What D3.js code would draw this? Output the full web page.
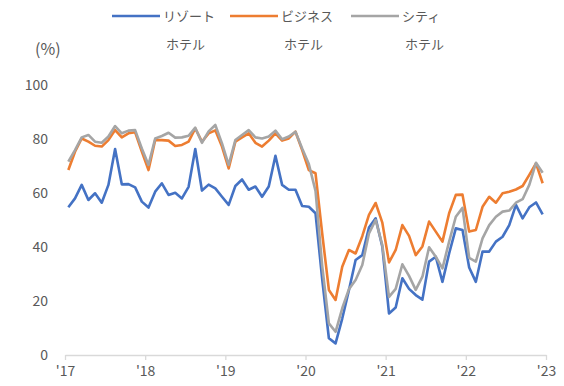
<!DOCTYPE html>
<html>
<head>
<meta charset="utf-8">
<script src="https://cdn.jsdelivr.net/npm/d3@7"></script>
<style>
  html, body { margin: 0; padding: 0; background: #fff; }
  svg text { font-family: "Noto Sans CJK JP", "Noto Sans", sans-serif; fill: #595959; }
</style>
</head>
<body>
<svg id="chart" width="564" height="386"></svg>
<script>
// Monthly occupancy rate (%), Jan 2017 – Dec 2022
const yearLabels = ["'17", "'18", "'19", "'20", "'21", "'22", "'23"];
const yTicks = [0, 20, 40, 60, 80, 100];

const resort = [
  54.7, 58.0, 63.0, 57.4, 59.9, 56.4, 63.0, 76.3, 63.2, 63.3, 62.1, 56.8,
  54.6, 60.5, 63.6, 59.3, 60.1, 58.0, 62.3, 76.3, 60.9, 63.1, 61.7, 58.6,
  55.6, 62.6, 65.0, 61.2, 62.4, 58.6, 62.4, 73.8, 63.0, 61.2, 61.2, 55.2,
  54.9, 52.5, 28.0, 6.2, 4.3, 13.5, 24.0, 35.2, 37.0, 47.2, 50.6, 40.1,
  15.4, 17.6, 28.4, 24.5, 22.2, 20.5, 34.6, 36.4, 27.1, 37.6, 46.9, 46.3,
  32.4, 27.1, 38.3, 38.3, 42.0, 43.8, 48.1, 55.6, 50.6, 54.7, 56.5, 52.1
];
const business = [
  68.5, 75.3, 80.2, 79.0, 77.5, 77.2, 79.6, 83.3, 80.6, 82.1, 82.5, 75.3,
  68.5, 79.6, 79.6, 79.4, 77.4, 77.8, 79.0, 83.9, 79.0, 82.1, 83.2, 77.2,
  69.1, 79.0, 80.6, 82.1, 78.6, 77.2, 79.4, 82.1, 79.4, 80.2, 82.7, 75.9,
  68.5, 67.3, 45.0, 24.1, 20.4, 32.7, 38.9, 37.6, 44.0, 51.9, 56.3, 49.0,
  34.3, 38.9, 48.1, 44.1, 37.0, 40.2, 49.4, 45.7, 42.0, 52.5, 59.3, 59.4,
  45.7, 46.3, 54.9, 58.6, 56.4, 59.9, 60.5, 61.3, 62.6, 66.7, 71.0, 63.6
];
const city = [
  71.6, 75.9, 80.6, 81.5, 79.0, 78.6, 80.9, 84.8, 82.1, 83.1, 83.3, 76.5,
  70.4, 80.2, 81.1, 82.3, 80.5, 80.6, 81.2, 84.2, 78.6, 82.8, 85.2, 78.4,
  70.4, 79.6, 81.5, 83.3, 80.6, 80.2, 80.9, 83.1, 79.9, 80.9, 82.7, 76.5,
  70.7, 60.8, 33.0, 11.7, 8.6, 17.3, 24.4, 27.8, 33.3, 45.0, 50.0, 40.7,
  21.5, 24.5, 33.6, 29.3, 24.1, 29.0, 39.9, 36.4, 32.1, 42.0, 51.2, 54.5,
  36.0, 34.6, 43.2, 48.1, 51.2, 53.1, 53.5, 56.4, 57.7, 63.0, 71.2, 67.5
];

const seriesNames = [["リゾート", "ホテル"], ["ビジネス", "ホテル"], ["シティ", "ホテル"]];
const seriesColors = ["#4472C4", "#ED7D31", "#A5A5A5"];
const seriesData = [resort, business, city];

const svg = d3.select("#chart");
const plot = { left: 65, right: 546, top: 85, bottom: 355 };

const monthsCount = resort.length;
const x = d3.scaleLinear().domain([0, monthsCount]).range([plot.left, plot.right]);
const y = d3.scaleLinear().domain([0, 100]).range([plot.bottom, plot.top]);

// x axis: year boundaries every 12 months
const xAxis = d3.axisBottom(x)
  .tickValues(d3.range(0, monthsCount + 1, 12))
  .tickFormat((d, i) => yearLabels[i])
  .tickSizeInner(5)
  .tickSizeOuter(0)
  .tickPadding(6);

const gx = svg.append("g")
  .attr("transform", `translate(0,${plot.bottom})`)
  .call(xAxis);
gx.select(".domain").attr("stroke", "#D9D9D9").attr("stroke-width", 1.3);
gx.selectAll(".tick line").attr("stroke", "#D9D9D9").attr("stroke-width", 1.3);
gx.selectAll(".tick text").attr("font-size", 14).attr("fill", "#595959")
  .attr("font-family", "'Noto Sans CJK JP', sans-serif");

// y axis: labels only
const yAxis = d3.axisLeft(y).tickValues(yTicks).tickSize(0).tickPadding(17);
const gy = svg.append("g")
  .attr("transform", `translate(${plot.left},0)`)
  .call(yAxis);
gy.select(".domain").remove();
gy.selectAll(".tick text").attr("font-size", 14).attr("fill", "#595959")
  .attr("font-family", "'Noto Sans CJK JP', sans-serif");

svg.append("text")
  .attr("x", 35).attr("y", 55)
  .attr("font-size", 16)
  .text("(%)");

// series lines, one point per month at the month's centre
const line = d3.line()
  .x((d, i) => x(i + 0.5))
  .y(d => y(d));

seriesData.forEach((data, s) => {
  svg.append("path")
    .datum(data)
    .attr("fill", "none")
    .attr("stroke", seriesColors[s])
    .attr("stroke-width", 2.6)
    .attr("stroke-linejoin", "round")
    .attr("d", line);
});

// legend
const legendX = [112, 230, 351];
seriesNames.forEach((names, s) => {
  const g = svg.append("g").attr("transform", `translate(${legendX[s]},16)`);
  g.append("line")
    .attr("x1", 0).attr("x2", 48)
    .attr("y1", 0).attr("y2", 0)
    .attr("stroke", seriesColors[s])
    .attr("stroke-width", 2.6);
  g.append("text")
    .attr("x", 51).attr("y", 5)
    .attr("font-size", 13)
    .text(names[0]);
  g.append("text")
    .attr("x", 54).attr("y", 33)
    .attr("font-size", 13)
    .text(names[1]);
});
</script>
</body>
</html>
